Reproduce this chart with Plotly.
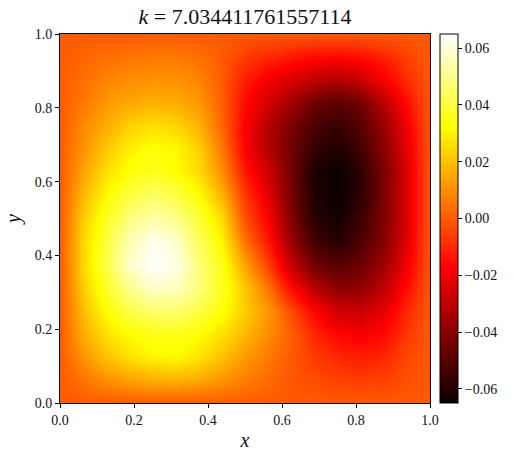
import plotly.graph_objects as go

x_vals = [i / 16 for i in range(17)]
y_vals = [i / 16 for i in range(17)]

# values in thousandths, listed from y = 0 upward
row_000 = [0] * 17
row_006 = [0, 5, 10, 14, 16, 17, 15, 11, 7, 3, -1, -3, -5, -6, -5, -2, 0]
row_012 = [0, 11, 20, 26, 30, 31, 27, 20, 12, 6, 0, -6, -10, -12, -10, -4, 0]
row_019 = [0, 16, 26, 32, 35, 35, 32, 26, 18, 10, 1, -10, -17, -19, -16, -7, 0]
row_025 = [0, 19, 32, 41, 46, 46, 41, 33, 22, 12, -3, -17, -27, -28, -22, -10, 0]
row_031 = [0, 22, 37, 50, 58, 57, 48, 36, 21, 5, -16, -31, -40, -39, -30, -15, 0]
row_038 = [0, 24, 41, 58, 65, 62, 48, 35, 14, -5, -29, -45, -50, -46, -36, -20, 0]
row_044 = [0, 24, 40, 55, 63, 58, 44, 30, 5, -13, -37, -54, -59, -52, -41, -23, 0]
row_050 = [0, 22, 36, 48, 54, 50, 39, 25, -2, -18, -42, -59, -63, -55, -42, -24, 0]
row_056 = [0, 18, 31, 40, 45, 41, 32, 17, -7, -23, -44, -61, -65, -58, -43, -24, 0]
row_062 = [0, 14, 26, 33, 36, 32, 25, 10, -13, -27, -45, -61, -65, -58, -43, -24, 0]
row_069 = [0, 11, 21, 29, 33, 31, 23, 6, -18, -32, -45, -57, -61, -54, -40, -22, 0]
row_075 = [0, 9, 16, 23, 26, 24, 17, 2, -18, -32, -43, -53, -56, -50, -37, -20, 0]
row_081 = [0, 6, 12, 15, 17, 16, 12, 1, -16, -26, -36, -46, -50, -45, -31, -15, 0]
row_088 = [0, 4, 8, 10, 11, 11, 8, 0, -12, -20, -25, -30, -33, -28, -19, -9, 0]
row_094 = [0, 2, 4, 5, 6, 6, 4, 0, -6, -10, -13, -16, -17, -15, -11, -5, 0]
row_100 = [0] * 17

rows = [row_000, row_006, row_012, row_019, row_025, row_031, row_038, row_044, row_050,
        row_056, row_062, row_069, row_075, row_081, row_088, row_094, row_100]
z_vals = [[v / 1000 for v in r] for r in rows]

hot = [[0.0, "rgb(10,0,0)"], [0.365, "rgb(255,0,0)"], [0.746, "rgb(255,255,0)"], [1.0, "rgb(255,255,255)"]]
FONT = "Liberation Serif"

fig = go.Figure(go.Heatmap(
    x=x_vals, y=y_vals, z=z_vals, zmin=-0.065, zmax=0.065, zsmooth="best", colorscale=hot,
    colorbar=dict(thickness=18, thicknessmode="pixels", len=1, lenmode="fraction",
                  x=1.027, xanchor="left", xpad=0, y=0.5, yanchor="middle", ypad=0,
                  outlinecolor="black", outlinewidth=1, ticks="outside", ticklen=4, tickwidth=1,
                  tickcolor="black", tick0=0, dtick=0.02, tickformat=".2f",
                  tickfont=dict(family=FONT, size=14, color="#111"))))
axis = dict(range=[0, 1], tick0=0, dtick=0.2, tickformat=".1f", ticks="outside", ticklen=4, tickwidth=1,
            tickcolor="black", showline=True, linecolor="black", linewidth=1, mirror=True, automargin=False,
            showgrid=False, zeroline=False, tickfont=dict(family=FONT, size=14, color="#111"))
fig.update_layout(
    width=513, height=458, autosize=False, paper_bgcolor="white", plot_bgcolor="white",
    margin=dict(l=60, r=83, t=34, b=55),
    title=dict(text="<i>k</i> = 7.034411761557114", x=245 / 513, xanchor="center", y=1 - 16 / 458, yanchor="middle",
               font=dict(family=FONT, size=22, color="#111")),
    xaxis=dict(axis, title=dict(text="<i>x</i>", font=dict(family=FONT, size=20, color="#111"), standoff=6)),
    yaxis=dict(axis, title=dict(text="<i>y</i>", font=dict(family=FONT, size=20, color="#111"), standoff=8)),
)
fig.write_html("out.html", config=dict(displayModeBar=False),
               post_script="document.body.style.margin='0';document.body.style.overflow='hidden';")
